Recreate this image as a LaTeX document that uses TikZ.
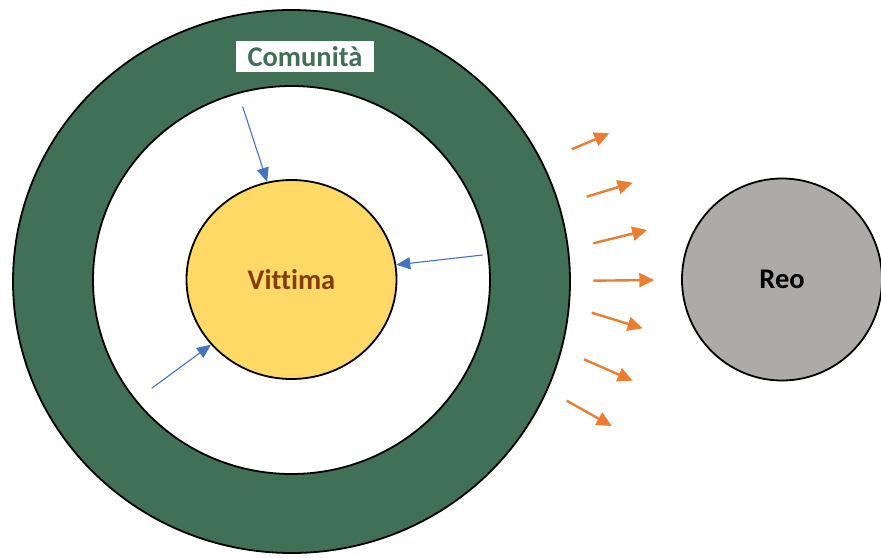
\documentclass[tikz,border=0pt]{standalone}
\usepackage{fontspec}
\setmainfont[Ligatures=NoCommon]{Carlito}
\usetikzlibrary{shapes.geometric,arrows.meta}
\definecolor{ringgreen}{RGB}{64,112,86}
\definecolor{vityellow}{RGB}{255,217,102}
\definecolor{vitbrown}{RGB}{132,60,12}
\definecolor{reogray}{RGB}{174,170,170}
\definecolor{arrblue}{RGB}{68,114,196}
\definecolor{arrorange}{RGB}{237,125,49}
\tikzset{
  circ/.style={ellipse, draw=black, line width=1.8pt, inner sep=0pt},
  lbl/.style={font=\bfseries\fontsize{28.5}{30}\selectfont},
  bluearrow/.style={draw=arrblue, line width=1.1pt, -{Triangle[length=14pt,width=12pt]}},
  orangearrow/.style={draw=arrorange, line width=2.4pt, -{Triangle[length=15pt,width=14pt]}},
}
\begin{document}
\begin{tikzpicture}[x=1pt,y=-1pt]
\useasboundingbox (0,0) rectangle (881,557);
\node[circ, fill=ringgreen, minimum width=557pt, minimum height=543pt] (outer) at (291.5,281.5) {};
\node[circ, fill=white, minimum width=397pt, minimum height=388pt] (inner) at (291.5,280) {};
\node[circ, fill=vityellow, minimum width=210pt, minimum height=199pt, lbl, text=vitbrown] (vit) at (291.5,279.5) {Vittima};
\node[circ, fill=reogray, minimum width=200pt, minimum height=202pt, lbl, text=black] (reo) at (782,279.5) {Reo};
\node[fill=white, minimum width=138pt, minimum height=31pt, inner sep=0pt, lbl, text=ringgreen] (com) at (305,56.5) {Comunità};
% blue arrows
\coordinate (b1) at (242.7,106.7);
\coordinate (b2) at (482.7,255);
\coordinate (b3) at (151.7,388.3);
\draw[bluearrow] (b1) -- (vit.104);
\draw[bluearrow] (b2) -- (vit.8);
\draw[bluearrow] (b3) -- (vit.219);
% orange arrows
\coordinate (o1s) at (571.7,149.3); \coordinate (o1e) at (609.3,133.3);
\coordinate (o2s) at (586.7,196.7); \coordinate (o2e) at (632.7,182.7);
\coordinate (o3s) at (593.3,243.3); \coordinate (o3e) at (647.3,230);
\coordinate (o4s) at (593.3,280.7); \coordinate (o4e) at (654.3,280);
\coordinate (o5s) at (591.7,312.7); \coordinate (o5e) at (642.7,328.3);
\coordinate (o6s) at (584,359.3);   \coordinate (o6e) at (632.7,380.7);
\coordinate (o7s) at (566.7,400.7); \coordinate (o7e) at (611.7,426);
\foreach \i in {1,...,7} {\draw[orangearrow] (o\i s) -- (o\i e);}
\end{tikzpicture}
\end{document}
